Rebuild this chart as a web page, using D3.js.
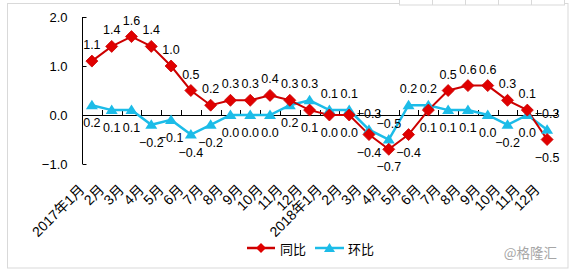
<!DOCTYPE html>
<head>
  <meta charset='utf-8'>
  <script src="https://d3js.org/d3.v7.min.js"></script>
  <style>
    body { margin: 0; background: #fff; }
    text { font-family: "Liberation Sans", Arial, "Noto Sans CJK SC", sans-serif; }
  </style>
</head>
<body>
  <div id="container"></div>
  <script type="text/javascript">
    // data
    var months = ["2017年1月", "2月", "3月", "4月", "5月", "6月", "7月", "8月", "9月", "10月", "11月", "12月",
                  "2018年1月", "2月", "3月", "4月", "5月", "6月", "7月", "8月", "9月", "10月", "11月", "12月"];
    var yoy = [1.1, 1.4, 1.6, 1.4, 1.0, 0.5, 0.2, 0.3, 0.3, 0.4, 0.3, 0.1,
               0.0, 0.0, -0.4, -0.7, -0.4, 0.1, 0.5, 0.6, 0.6, 0.3, 0.1, -0.5];
    var mom = [0.2, 0.1, 0.1, -0.2, -0.1, -0.4, -0.2, 0.0, 0.0, 0.0, 0.2, 0.3,
               0.1, 0.1, -0.3, -0.5, 0.2, 0.2, 0.1, 0.1, 0.0, -0.2, 0.0, -0.3];
    var yTicks = [2.0, 1.0, 0.0, -1.0];
    var legendNames = ["同比", "环比"];

    var red = "#E00000", redLine = "#CC0000", blue = "#1CBCE8";

    var svg = d3.select("#container").append("svg")
        .attr("width", 578).attr("height", 276);

    // outer chart frame + the bit of sheet grid showing at top right
    svg.append("rect").attr("x", 7.5).attr("y", 3.5).attr("width", 560.5).attr("height", 264.5)
        .attr("fill", "#fff").attr("stroke", "#D9D9D9");
    svg.append("rect").attr("x", 399.5).attr("y", -1).attr("width", 165).attr("height", 6)
        .attr("fill", "#fff").attr("stroke", "#D9D9D9");
    [432.5, 465.5, 498.5, 531.5].forEach(function(x) {
        svg.append("line").attr("x1", x).attr("x2", x).attr("y1", 0).attr("y2", 5).attr("stroke", "#D9D9D9");
    });

    var x = d3.scaleBand().domain(d3.range(months.length)).range([82, 557]);
    var y = d3.scaleLinear().domain([-1, 2]).range([164, 17]);
    var cx = function(i) { return x(i) + x.bandwidth() / 2; };

    // y axis
    var yAxis = svg.append("g").attr("transform", "translate(82.5,0)")
        .call(d3.axisLeft(y).tickValues(yTicks).tickFormat(d3.format(".1f")).tickSize(-4).tickPadding(15));
    yAxis.select(".domain").attr("stroke", "#000").attr("d", "M0," + y(2) + "V" + y(-1));
    yAxis.selectAll(".tick line").attr("stroke", "#000");
    yAxis.selectAll("text").attr("font-size", 13).attr("fill", "#000")
        .style("font-family", "'Liberation Sans', Arial, sans-serif");

    // x axis on the zero line, ticks between categories pointing up
    var xa = svg.append("g");
    xa.append("line").attr("x1", 82).attr("x2", 557).attr("y1", y(0) + 0.5).attr("y2", y(0) + 0.5)
        .attr("stroke", "#000");
    d3.range(months.length + 1).forEach(function(k) {
        var xx = Math.round(82 + k * x.bandwidth()) + 0.5;
        xa.append("line").attr("x1", xx).attr("x2", xx).attr("y1", y(0)).attr("y2", y(0) - 5)
            .attr("stroke", "#000");
    });

    // rotated category labels at the bottom
    svg.append("g").selectAll("text").data(months).enter().append("text")
        .attr("transform", function(d, i) { return "translate(" + (cx(i) - 10) + ",187) rotate(-45)"; })
        .attr("text-anchor", "end")
        .attr("dominant-baseline", "central")
        .attr("font-size", 14)
        .attr("fill", "#000")
        .text(function(d) { return d; });

    var line = d3.line().x(function(d, i) { return cx(i); }).y(function(d) { return y(d); });

    svg.append("path").datum(mom).attr("d", line).attr("fill", "none")
        .attr("stroke", blue).attr("stroke-width", 2.5);
    svg.append("path").datum(yoy).attr("d", line).attr("fill", "none")
        .attr("stroke", redLine).attr("stroke-width", 2);

    var tri = "M0,-5.5L6,4L-6,4Z";
    var dia = "M0,-6L6,0L0,6L-6,0Z";

    svg.append("g").selectAll("path").data(mom).enter().append("path")
        .attr("d", tri).attr("fill", blue)
        .attr("transform", function(d, i) { return "translate(" + cx(i) + "," + y(d) + ")"; });
    svg.append("g").selectAll("path").data(yoy).enter().append("path")
        .attr("d", dia).attr("fill", red).attr("stroke", redLine).attr("stroke-width", 0.8)
        .attr("transform", function(d, i) { return "translate(" + cx(i) + "," + y(d) + ")"; });

    // data labels: the higher series gets its label above, the lower one below
    var fmt = d3.format(".1f");
    function labels(vals, other, isRed) {
        svg.append("g").selectAll("text").data(vals).enter().append("text")
            .attr("x", function(d, i) { return cx(i); })
            .attr("y", function(d, i) {
                var up = isRed ? d >= other[i] : d > other[i];
                return up ? y(d) - 12 : y(d) + 22;
            })
            .attr("text-anchor", "middle")
            .attr("font-size", 12.5)
            .attr("fill", "#000")
            .text(function(d) { return fmt(d); });
    }
    labels(yoy, mom, true);
    labels(mom, yoy, false);

    // legend
    var lg = svg.append("g").attr("transform", "translate(0,248)");
    lg.append("line").attr("x1", 247).attr("x2", 275).attr("stroke", redLine).attr("stroke-width", 2.5);
    lg.append("path").attr("d", "M0,-5L5,0L0,5L-5,0Z").attr("fill", red).attr("transform", "translate(261,0)");
    lg.append("text").attr("x", 280).attr("dominant-baseline", "central").attr("font-size", 13)
        .style("font-family", "'Noto Sans CJK SC', sans-serif").text(legendNames[0]);
    lg.append("line").attr("x1", 315).attr("x2", 344).attr("stroke", blue).attr("stroke-width", 2.5);
    lg.append("path").attr("d", "M0,-5L5.5,4L-5.5,4Z").attr("fill", blue).attr("transform", "translate(329.5,0)");
    lg.append("text").attr("x", 348).attr("dominant-baseline", "central").attr("font-size", 13)
        .style("font-family", "'Noto Sans CJK SC', sans-serif").text(legendNames[1]);

    // watermark
    svg.append("text").attr("x", 557).attr("y", 252).attr("text-anchor", "end")
        .attr("dominant-baseline", "central").attr("font-size", 13.5).attr("fill", "#A6A6A6")
        .style("font-family", "'Noto Sans CJK SC', sans-serif").text("@格隆汇");
  </script>
</body>
